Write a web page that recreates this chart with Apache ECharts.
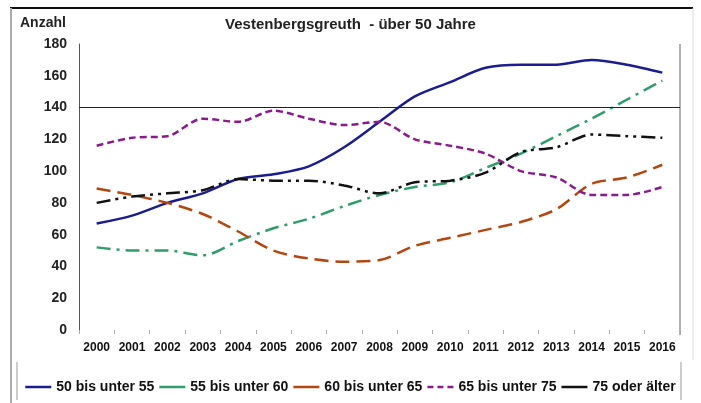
<!DOCTYPE html>
<html>
<head>
<meta charset="utf-8">
<script src="https://cdn.jsdelivr.net/npm/echarts@6/dist/echarts.min.js"></script>
<style>
  html, body { margin: 0; padding: 0; background: #fff; }
  #chart { width: 701px; height: 403px; }
</style>
</head>
<body>
<div id="chart"></div>
<script>
const years = ['2000', '2001', '2002', '2003', '2004', '2005', '2006', '2007', '2008',
  '2009', '2010', '2011', '2012', '2013', '2014', '2015', '2016'];

const s50bis55 = [67, 72, 80, 86, 95, 98, 103, 115, 131, 147, 156, 165, 167, 167, 170, 167, 162];
const s55bis60 = [52, 50, 50, 47, 56, 64, 70, 78, 85, 90, 93, 102, 111, 122, 133, 145, 157];
const s60bis65 = [89, 85, 80, 73, 62, 50, 45, 43, 44, 53, 58, 63, 68, 76, 92, 96, 104];
const s65bis75 = [116, 121, 122, 133, 131, 138, 133, 129, 131, 120, 116, 111, 100, 96, 85, 85, 90];
const s75plus = [80, 84, 86, 88, 95, 94, 94, 91, 86, 93, 94, 99, 112, 115, 123, 122, 121];

const yTicks = [0, 20, 40, 60, 80, 100, 120, 140, 160, 180];

const font = '"Liberation Sans", Arial, sans-serif';

const chart = echarts.init(document.getElementById('chart'));

function line(name, data, color, dash, width) {
  return {
    name: name,
    type: 'line',
    data: data,
    smooth: 0.3,
    symbol: 'none',
    lineStyle: { color: color, width: width || 2.5, type: dash || 'solid' },
    itemStyle: { color: color }
  };
}

const series = [
  line('50 bis unter 55', s50bis55, '#1b1d8f', 'solid', 2.5),
  line('55 bis unter 60', s55bis60, '#2f9e6c', [14, 6, 3, 6], 2.5),
  line('60 bis unter 65', s60bis65, '#b4470f', [14, 7], 2.5),
  line('65 bis unter 75', s65bis75, '#8b1a8e', [7, 4], 2.5),
  line('75 oder älter', s75plus, '#111111', [14, 5, 3, 5, 3, 5], 2.5)
];

// horizontale Linie bei 140
series[0].markLine = {
  silent: true,
  symbol: 'none',
  label: { show: false },
  lineStyle: { color: '#222', width: 1, type: 'solid' },
  data: [{ yAxis: 140 }]
};

const solidIcon = 'path://M0,0H26V2.5H0Z';
const dashIcon = 'path://M0,0H6V2.5H0Z M10,0H16V2.5H10Z M20,0H26V2.5H20Z';

chart.setOption({
  animation: false,
  backgroundColor: '#fff',
  textStyle: { fontFamily: font },
  title: {
    text: 'Vestenbergsgreuth  - über 50 Jahre',
    left: 'center',
    top: 12,
    textStyle: { fontFamily: font, fontSize: 15, fontWeight: 'bold', color: '#222' }
  },
  graphic: [
    { type: 'line', shape: { x1: 10, y1: 8, x2: 693, y2: 8 }, style: { stroke: '#111', lineWidth: 2 } },
    { type: 'line', shape: { x1: 11, y1: 8, x2: 11, y2: 403 }, style: { stroke: '#aaa', lineWidth: 2 } },
    { type: 'line', shape: { x1: 693, y1: 8, x2: 693, y2: 360 }, style: { stroke: '#ddd', lineWidth: 1 } },
    { type: 'line', shape: { x1: 680, y1: 44, x2: 680, y2: 335 }, style: { stroke: '#999', lineWidth: 1.5 } },
    { type: 'line', shape: { x1: 17, y1: 362, x2: 17, y2: 400 }, style: { stroke: '#bbb', lineWidth: 1.5 } },
    { type: 'line', shape: { x1: 681, y1: 362, x2: 681, y2: 400 }, style: { stroke: '#bbb', lineWidth: 1.5 } },
    {
      type: 'text', left: 20, top: 16,
      style: { text: 'Anzahl', font: 'bold 14px ' + font, fill: '#222' }
    }
  ],
  legend: {
    top: 375,
    left: 'center',
    itemWidth: 26,
    itemHeight: 3,
    itemGap: 5,
    textStyle: { fontFamily: font, fontSize: 14, fontWeight: 'bold', color: '#111' },
    data: [
      { name: '50 bis unter 55', icon: solidIcon },
      { name: '55 bis unter 60', icon: solidIcon },
      { name: '60 bis unter 65', icon: solidIcon },
      { name: '65 bis unter 75', icon: dashIcon },
      { name: '75 oder älter', icon: solidIcon }
    ]
  },
  grid: { left: 79, right: 21, top: 44, bottom: 73 },
  xAxis: {
    type: 'category',
    data: years,
    boundaryGap: true,
    axisLine: { show: false },
    axisTick: { show: true, length: 4, lineStyle: { color: '#aaa' } },
    axisLabel: { interval: 0, fontSize: 12, fontWeight: 'bold', color: '#111', margin: 12, fontFamily: font }
  },
  yAxis: {
    type: 'value',
    min: yTicks[0],
    max: yTicks[yTicks.length - 1],
    interval: 20,
    axisLine: { show: true, lineStyle: { color: '#555', width: 1 } },
    axisTick: { show: false },
    splitLine: { show: false },
    axisLabel: { fontSize: 14, fontWeight: 'bold', color: '#222', margin: 12, fontFamily: font }
  },
  series: series
});
</script>
</body>
</html>
